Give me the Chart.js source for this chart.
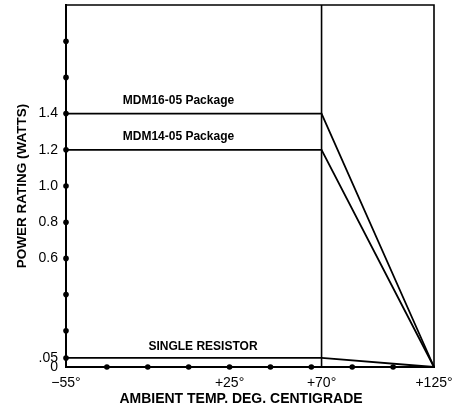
<!DOCTYPE html>
<html>
<head>
<meta charset="utf-8">
<script src="https://cdn.jsdelivr.net/npm/chart.js@4/dist/chart.umd.min.js"></script>
<style>
  html, body { margin: 0; padding: 0; background: #fff; }
  #wrap { width: 457px; height: 411px; }
</style>
</head>
<body>
<div id="wrap"><canvas id="c" width="457" height="411"></canvas></div>
<script>
// ---- data ----
const temps = [-55, 70, 125];
const mdm16 = [1.4, 1.4, 0];
const mdm14 = [1.2, 1.2, 0];
const singleResistor = [0.05, 0.05, 0];
const seriesNames = ['MDM16-05 Package', 'MDM14-05 Package', 'SINGLE RESISTOR'];

const xTicks = [-55, 25, 70, 125];
const xTickLabels = ['\u221255\u00b0', '+25\u00b0', '+70\u00b0', '+125\u00b0'];
const yTicks = [0, 0.05, 0.6, 0.8, 1.0, 1.2, 1.4];
const yTickLabels = ['0', '.05', '0.6', '0.8', '1.0', '1.2', '1.4'];

const yDots = [0.05, 0.2, 0.4, 0.6, 0.8, 1.0, 1.2, 1.4, 1.6, 1.8];
const xDots = [-35, -15, 5, 25, 45, 65, 85, 105];
const kneeTemp = 70;

const xTitle = 'AMBIENT TEMP. DEG. CENTIGRADE';
const yTitle = 'POWER RATING (WATTS)';

// ---- build ----
const toPts = (ys) => temps.map((t, i) => ({ x: t, y: ys[i] }));
const dotPts = yDots.map(v => ({ x: -55, y: v })).concat(xDots.map(v => ({ x: v, y: 0 })));

const lineStyle = { borderColor: '#000', borderWidth: 1.8, pointRadius: 0, showLine: true, fill: false, tension: 0, clip: false };

const labelPos = [
  { x: 0, y: 1.4, off: 7 },
  { x: 0, y: 1.2, off: 7 },
  { x: 12, y: 0.05, off: 5 }
];

const deco = {
  id: 'deco',
  afterDatasetsDraw(chart) {
    const { ctx, chartArea: a, scales: { x, y } } = chart;
    ctx.save();
    ctx.strokeStyle = '#000';
    ctx.lineWidth = 1.6;
    ctx.beginPath();
    ctx.moveTo(a.left, a.top); ctx.lineTo(a.right, a.top); ctx.lineTo(a.right, a.bottom);
    const kx = x.getPixelForValue(kneeTemp);
    ctx.moveTo(kx, a.top); ctx.lineTo(kx, a.bottom);
    ctx.stroke();

    ctx.fillStyle = '#000';
    ctx.font = 'bold 12px "Liberation Sans", Arial, sans-serif';
    ctx.textAlign = 'center';
    ctx.textBaseline = 'bottom';
    seriesNames.forEach((n, i) => {
      const p = labelPos[i];
      ctx.fillText(n, x.getPixelForValue(p.x), y.getPixelForValue(p.y) - p.off);
    });

    ctx.textBaseline = 'middle';
    ctx.font = 'bold 14px "Liberation Sans", Arial, sans-serif';
    ctx.fillText(xTitle, 241, 399);
    ctx.font = 'bold 13.5px "Liberation Sans", Arial, sans-serif';
    ctx.translate(22, (a.top + a.bottom) / 2);
    ctx.rotate(-Math.PI / 2);
    ctx.fillText(yTitle, 0, 0);
    ctx.restore();
  }
};

new Chart(document.getElementById('c'), {
  type: 'scatter',
  data: {
    datasets: [
      Object.assign({ data: toPts(mdm16) }, lineStyle),
      Object.assign({ data: toPts(mdm14) }, lineStyle),
      Object.assign({ data: toPts(singleResistor) }, lineStyle),
      { data: dotPts, showLine: false, pointRadius: 2.8, pointBackgroundColor: '#000', pointBorderWidth: 0, clip: false }
    ]
  },
  options: {
    responsive: false,
    animation: false,
    events: [],
    layout: { padding: { left: 0, right: 23, top: 5, bottom: 0 } },
    plugins: { legend: { display: false }, tooltip: { enabled: false } },
    scales: {
      x: {
        type: 'linear', min: -55, max: 125,
        grid: { display: false, drawTicks: false },
        border: { display: true, color: '#000', width: 2 },
        afterBuildTicks: (s) => { s.ticks = xTicks.map(v => ({ value: v })); },
        afterFit: (s) => { s.height = 44; s.paddingLeft = 0; s.paddingRight = 0; },
        ticks: {
          autoSkip: false, maxRotation: 0, padding: 8, color: '#000',
          font: { family: '"Liberation Sans", Arial, sans-serif', size: 14 },
          callback: (v) => xTickLabels[xTicks.indexOf(v)]
        }
      },
      y: {
        type: 'linear', min: 0, max: 2.0,
        grid: { display: false, drawTicks: false },
        border: { display: true, color: '#000', width: 2 },
        afterBuildTicks: (s) => { s.ticks = yTicks.map(v => ({ value: v })); },
        afterFit: (s) => { s.width = 66; s.paddingTop = 0; s.paddingBottom = 0; },
        ticks: {
          autoSkip: false, padding: 8, color: '#000',
          font: { family: '"Liberation Sans", Arial, sans-serif', size: 14 },
          callback: (v) => yTickLabels[yTicks.indexOf(v)]
        }
      }
    }
  },
  plugins: [deco]
});
</script>
</body>
</html>
